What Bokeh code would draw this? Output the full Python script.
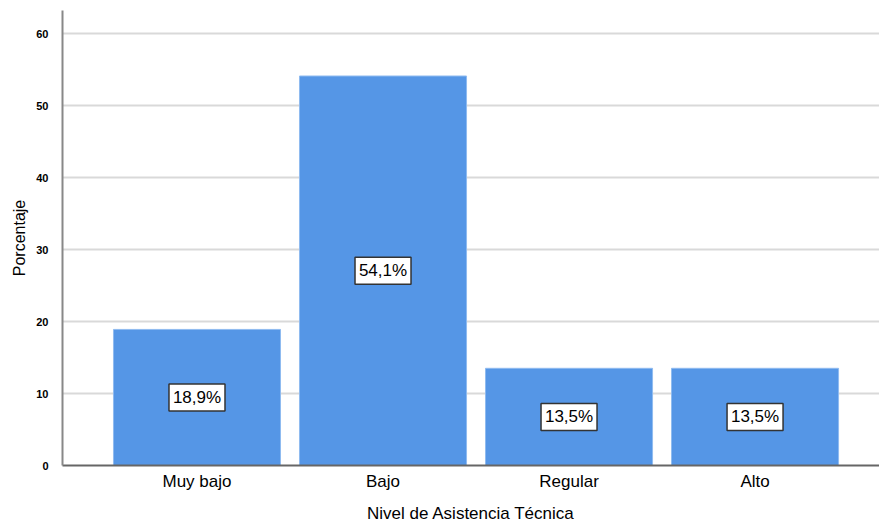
from bokeh.plotting import figure
from bokeh.models import ColumnDataSource, Range1d, FixedTicker
from bokeh.core.properties import value
from bokeh.embed import file_html
from bokeh.resources import INLINE

categories = ["Muy bajo", "Bajo", "Regular", "Alto"]
percentages = [18.9, 54.1, 13.5, 13.5]
labels = ["18,9%", "54,1%", "13,5%", "13,5%"]
y_ticks = [0, 10, 20, 30, 40, 50, 60]

xs = list(range(1, len(categories) + 1))
src = ColumnDataSource(dict(
    x=xs, top=percentages, mid=[v / 2 for v in percentages], label=labels,
))

p = figure(width=879, height=525, output_backend="svg", toolbar_location=None,
           x_range=Range1d(0.277, 4.669), y_range=Range1d(0, 63.2),
           min_border_left=62, min_border_right=0, min_border_top=10,
           min_border_bottom=60)
p.outline_line_color = None
p.background_fill_color = "white"

p.vbar(x="x", top="top", width=0.898, source=src, fill_color="#5596E6",
       line_color="#8FBBF0", line_width=1)

p.rect(x="x", y="mid", width=56, height=27, width_units="screen",
       height_units="screen", source=src, fill_color="white",
       line_color="#333333", line_width=1.5)
p.text(x="x", y="mid", text="label", source=src, text_align="center",
       text_baseline="middle", text_font=value("Liberation Sans"),
       text_font_size="17px", text_color="black")

p.xgrid.grid_line_color = None
p.ygrid.grid_line_color = "#D9D9D9"
p.ygrid.grid_line_width = 2
p.ygrid.ticker = FixedTicker(ticks=y_ticks)

p.yaxis.ticker = FixedTicker(ticks=y_ticks)
p.yaxis.axis_label = "Porcentaje"
p.yaxis.axis_label_text_font = "Liberation Sans"
p.yaxis.axis_label_text_font_style = "normal"
p.yaxis.axis_label_text_font_size = "16px"
p.yaxis.axis_label_text_color = "black"
p.yaxis.axis_label_standoff = 5
p.yaxis.major_label_text_font = "Liberation Sans"
p.yaxis.major_label_text_font_style = "bold"
p.yaxis.major_label_text_font_size = "11px"
p.yaxis.major_label_text_color = "black"
p.yaxis.major_label_standoff = 14
p.yaxis.major_tick_out = 0
p.yaxis.major_tick_in = 0
p.yaxis.minor_tick_out = 0
p.yaxis.minor_tick_in = 0
p.yaxis.axis_line_color = "#888888"
p.yaxis.axis_line_width = 2

p.xaxis.ticker = FixedTicker(ticks=xs)
p.xaxis.major_label_overrides = {x: c for x, c in zip(xs, categories)}
p.xaxis.axis_label = "Nivel de Asistencia Técnica"
p.xaxis.axis_label_text_font = "Liberation Sans"
p.xaxis.axis_label_text_font_style = "normal"
p.xaxis.axis_label_text_font_size = "17px"
p.xaxis.axis_label_text_color = "black"
p.xaxis.axis_label_standoff = 10
p.xaxis.major_label_text_font = "Liberation Sans"
p.xaxis.major_label_text_font_size = "17px"
p.xaxis.major_label_text_color = "black"
p.xaxis.major_label_standoff = 6
p.xaxis.major_tick_out = 0
p.xaxis.major_tick_in = 0
p.xaxis.minor_tick_out = 0
p.xaxis.minor_tick_in = 0
p.xaxis.axis_line_color = "#666666"
p.xaxis.axis_line_width = 2

open("out.html", "w").write(file_html(p, INLINE))
